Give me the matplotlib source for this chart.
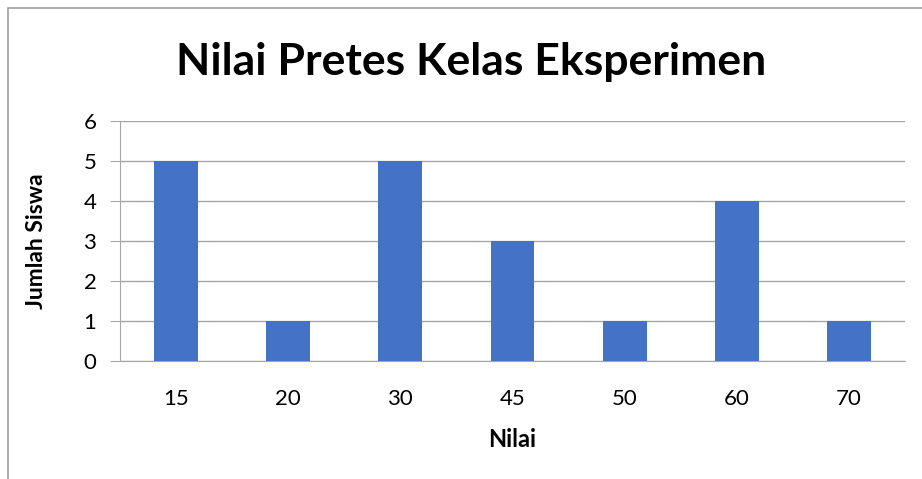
import matplotlib
matplotlib.use("Agg")
import matplotlib.pyplot as plt
from matplotlib.patches import Rectangle

categories = ["15", "20", "30", "45", "50", "60", "70"]
values = [5, 1, 5, 3, 1, 4, 1]
yticks = [0, 1, 2, 3, 4, 5, 6]

plt.rcParams['font.family'] = ['Lato', 'DejaVu Sans']

W, H = 922, 479
fig = plt.figure(figsize=(W / 100, H / 100), dpi=100)
ax = fig.add_axes([120 / W, 1 - 361 / H, (905 - 120) / W, (361 - 121) / H])

x = range(len(categories))
ax.bar(x, values, width=0.39, color="#4472C4", zorder=3)
ax.set_xlim(-0.5, len(categories) - 0.5)
ax.set_ylim(0, 6)
ax.set_yticks(yticks)
ax.set_xticks(list(x))
ax.set_xticklabels(categories)

grid_c = "#A6A6A6"
ax.yaxis.grid(True, color=grid_c, linewidth=1, zorder=0)
for s in ["top", "right"]:
    ax.spines[s].set_visible(False)
ax.spines["left"].set_color(grid_c)
ax.spines["bottom"].set_color(grid_c)
ax.tick_params(axis="y", length=7, color=grid_c, labelsize=16, pad=10)
ax.tick_params(axis="x", length=0, labelsize=16, pad=20)

ax.set_ylabel("Jumlah Siswa", fontsize=16.5, fontweight="bold", labelpad=26)
ax.set_xlabel("Nilai", fontsize=17, fontweight="bold", labelpad=14)

fig.text(471 / W, 1 - 62 / H, "Nilai Pretes Kelas Eksperimen", ha="center", va="center",
         fontsize=32, fontweight="bold")

fig.patches.append(Rectangle((8 / W, -0.5), 2, 0.5 + (1 - 8 / H), transform=fig.transFigure,
                             fill=False, edgecolor="#A0A0A0", linewidth=1.2))

fig.savefig("out.png", dpi=100)
